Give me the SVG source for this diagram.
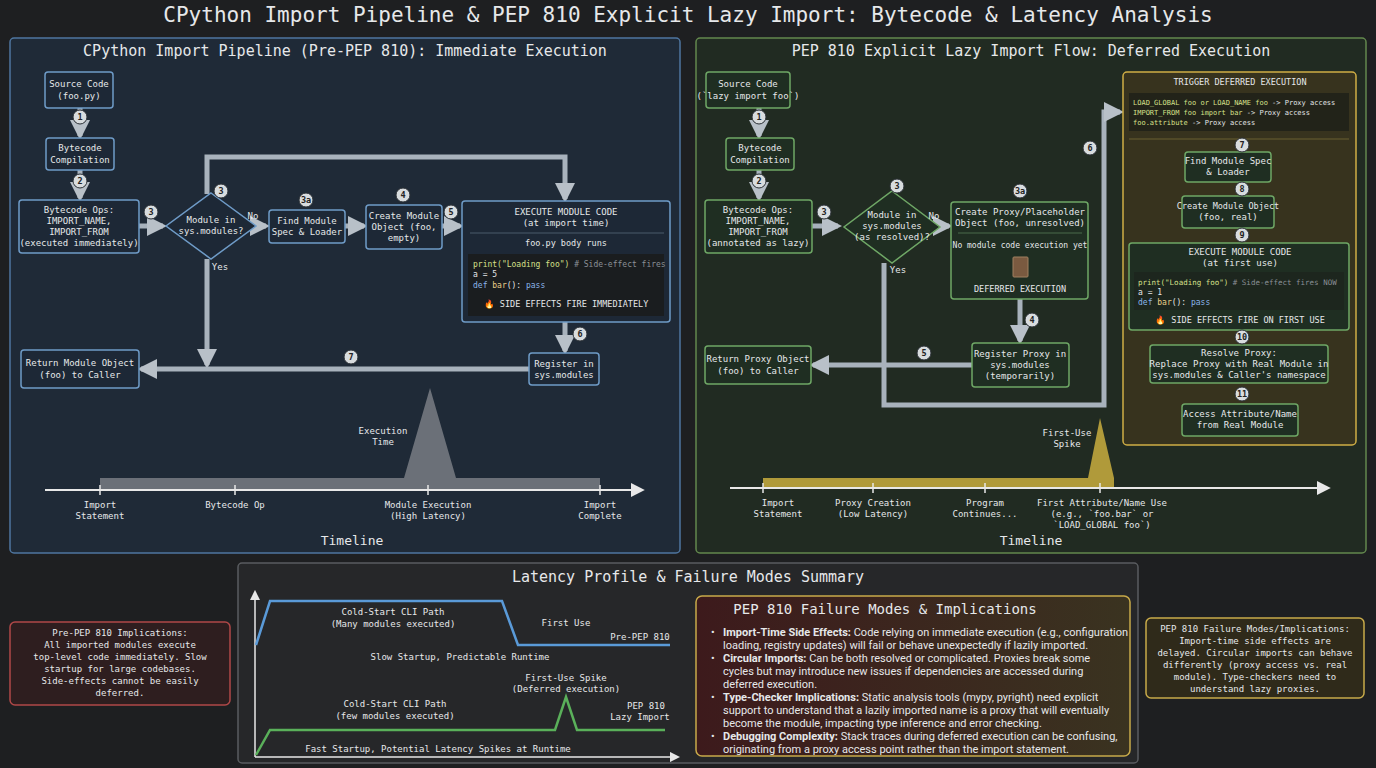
<svg xmlns="http://www.w3.org/2000/svg" width="1376" height="768" viewBox="0 0 1376 768">
<defs>
<marker id="ah" viewBox="0 0 10 10" refX="8" refY="5" markerWidth="4" markerHeight="4" orient="auto"><path d="M0,0L10,5L0,10z" fill="#b8c0c8"/></marker>
<marker id="aw" viewBox="0 0 10 10" refX="8" refY="5" markerWidth="7" markerHeight="7" orient="auto"><path d="M0,0L10,5L0,10z" fill="#e8e8e8"/></marker>
<linearGradient id="fg" x1="0" x2="1"><stop offset="0" stop-color="#3d1a1c"/><stop offset="1" stop-color="#3a3320"/></linearGradient>
<style>
text{font-family:"DejaVu Sans Mono",monospace;fill:#e6e8ea;font-size:9px;text-anchor:middle}
.t{font-size:21px}.h{font-size:15px}.s{font-size:8.5px}.bl{fill:#1d2836;stroke:#6f9cc8;stroke-width:1.5}
.gn{fill:#1f2e22;stroke:#6fa866;stroke-width:1.5}
.ln{fill:none;stroke:#a8b2bc;stroke-width:5}
.bd{fill:#d8dcde;stroke:#2a2f35;stroke-width:1}.bt{fill:#222;font-size:8.5px;font-weight:bold}
.code{font-size:8px;text-anchor:start}
.sans{font-family:Roboto,"Liberation Sans",sans-serif;text-anchor:start;font-size:11px}
</style>
</defs>
<rect width="1376" height="768" fill="#1e1f21"/>
<text x="688" y="22" class="t">CPython Import Pipeline &amp; PEP 810 Explicit Lazy Import: Bytecode &amp; Latency Analysis</text>

<rect x="10" y="38" width="670" height="515" rx="4" fill="#1f2a37" stroke="#4f76a0" stroke-width="1.5"/>
<text x="345" y="56" class="h">CPython Import Pipeline (Pre-PEP 810): Immediate Execution</text>
<rect x="696" y="38" width="670" height="515" rx="4" fill="#212b22" stroke="#63884e" stroke-width="1.5"/>
<text x="1031" y="56" class="h">PEP 810 Explicit Lazy Import Flow: Deferred Execution</text>

<g id="connectors">
<path class="ln" d="M80,108V136" marker-end="url(#ah)"/>
<path class="ln" d="M80,170V198" marker-end="url(#ah)"/>
<path class="ln" d="M139,226H163" marker-end="url(#ah)"/>
<path class="ln" d="M256,226H266" marker-end="url(#ah)"/>
<path class="ln" d="M345,226H364" marker-end="url(#ah)"/>
<path class="ln" d="M442,226H460" marker-end="url(#ah)"/>
<path class="ln" d="M207,194V157H565V199" marker-end="url(#ah)"/>
<path class="ln" d="M207,259V365" marker-end="url(#ah)"/>
<path class="ln" d="M565,322V351" marker-end="url(#ah)"/>
<path class="ln" d="M529,369H141" marker-end="url(#ah)"/>
<path class="ln" d="M759,108V136" marker-end="url(#ah)"/>
<path class="ln" d="M759,170V198" marker-end="url(#ah)"/>
<path class="ln" d="M812,226H838" marker-end="url(#ah)"/>
<path class="ln" d="M940,226H949" marker-end="url(#ah)"/>
<path class="ln" d="M1020,299V341" marker-end="url(#ah)"/>
<path class="ln" d="M972,365H813" marker-end="url(#ah)"/>
<path class="ln" d="M884,263V405H1104V112H1120" marker-end="url(#ah)"/>
<path class="ln" d="M1228,138V150" marker-end="url(#ah)"/>
<path class="ln" d="M1228,182V194" marker-end="url(#ah)"/>
<path class="ln" d="M1228,228V241" marker-end="url(#ah)"/>
<path class="ln" d="M1228,330V343" marker-end="url(#ah)"/>
<path class="ln" d="M1228,383V402" marker-end="url(#ah)"/>
</g>

<g id="l-source"><rect class="bl" x="45" y="72" width="68" height="36" rx="3"/><text x="79" y="87">Source Code</text><text x="79" y="99">(foo.py)</text></g>
<g id="l-compile"><rect class="bl" x="46" y="138" width="68" height="32" rx="3"/><text x="80" y="151">Bytecode</text><text x="80" y="163">Compilation</text></g>
<g id="l-ops"><rect class="bl" x="19" y="200" width="120" height="53" rx="3"/><text x="79" y="213">Bytecode Ops:</text><text x="79" y="224">IMPORT_NAME,</text><text x="79" y="235">IMPORT_FROM</text><text x="79" y="246">(executed immediately)</text></g>
<g id="l-decision"><path d="M211,193L256,226L211,259L166,226z" fill="#1d2836" stroke="#6f9cc8" stroke-width="1.5"/><text x="211" y="223">Module in</text><text x="211" y="234">sys.modules?</text><text x="253" y="219">No</text><text x="220" y="270">Yes</text></g>
<g id="l-find"><rect class="bl" x="269" y="210" width="76" height="33" rx="3"/><text x="307" y="224">Find Module</text><text x="307" y="235">Spec &amp; Loader</text></g>
<g id="l-create"><rect class="bl" x="366" y="205" width="76" height="44" rx="3"/><text x="404" y="219">Create Module</text><text x="404" y="230">Object (foo,</text><text x="404" y="241">empty)</text></g>
<g id="l-exec"><rect class="bl" x="462" y="201" width="208" height="121" rx="3"/><text x="566" y="215">EXECUTE MODULE CODE</text><text x="566" y="226">(at import time)</text><line x1="470" y1="233" x2="664" y2="233" stroke="#4a5a6a"/><text x="566" y="246" class="s">foo.py body runs</text><rect x="468" y="254" width="196" height="62" fill="#1a1d1f"/><text x="473" y="267" class="code"><tspan fill="#d6e08a">print("Loading foo")</tspan><tspan fill="#8a9096">  # Side-effect fires</tspan></text><text x="473" y="277" class="code" fill="#ccc">a = 5</text><text x="473" y="288" class="code"><tspan fill="#8ab4e8">def</tspan><tspan fill="#e8d08a"> bar</tspan>(): <tspan fill="#8ab4e8">pass</tspan></text><text x="566" y="307" class="s">🔥 SIDE EFFECTS FIRE IMMEDIATELY</text></g>
<g id="l-register"><rect class="bl" x="529" y="353" width="70" height="32" rx="3"/><text x="564" y="367">Register in</text><text x="564" y="378">sys.modules</text></g>
<g id="l-return"><rect class="bl" x="21" y="350" width="118" height="38" rx="3"/><text x="80" y="366">Return Module Object</text><text x="80" y="378">(foo) to Caller</text></g>

<g id="l-badges">
<circle class="bd" cx="80" cy="117" r="7"/><text class="bt" x="80" y="120">1</text>
<circle class="bd" cx="80" cy="181" r="7"/><text class="bt" x="80" y="184">2</text>
<circle class="bd" cx="151" cy="212" r="7"/><text class="bt" x="151" y="215">3</text>
<circle class="bd" cx="221" cy="191" r="7"/><text class="bt" x="221" y="194">3</text>
<circle class="bd" cx="306" cy="200" r="7"/><text class="bt" x="306" y="203">3a</text>
<circle class="bd" cx="403" cy="195" r="7"/><text class="bt" x="403" y="198">4</text>
<circle class="bd" cx="451" cy="212" r="7"/><text class="bt" x="451" y="215">5</text>
<circle class="bd" cx="580" cy="334" r="7"/><text class="bt" x="580" y="337">6</text>
<circle class="bd" cx="351" cy="357" r="7"/><text class="bt" x="351" y="360">7</text>
</g>

<g id="l-timeline">
<path d="M100,490V478H404L430,388L456,478H600V490z" fill="#6b7078"/>
<line x1="45" y1="490" x2="642" y2="490" stroke="#e8e8e8" stroke-width="2" marker-end="url(#aw)"/>
<g stroke="#e8e8e8" stroke-width="1.5"><line x1="100" y1="485" x2="100" y2="495"/><line x1="235" y1="485" x2="235" y2="495"/><line x1="428" y1="485" x2="428" y2="495"/><line x1="600" y1="485" x2="600" y2="495"/></g>
<text x="383" y="434">Execution</text><text x="383" y="445">Time</text>
<text x="100" y="508">Import</text><text x="100" y="519">Statement</text><text x="235" y="508">Bytecode Op</text><text x="428" y="508">Module Execution</text><text x="428" y="519">(High Latency)</text><text x="600" y="508">Import</text><text x="600" y="519">Complete</text>
<text x="352" y="545" style="font-size:13px">Timeline</text>
</g>

<g id="r-source"><rect class="gn" x="706" y="72" width="84" height="36" rx="3"/><text x="748" y="87">Source Code</text><text x="748" y="99" fill="#e8e4b0">(`lazy import foo`)</text></g>
<g id="r-compile"><rect class="gn" x="726" y="138" width="68" height="32" rx="3"/><text x="760" y="151">Bytecode</text><text x="760" y="163">Compilation</text></g>
<g id="r-ops"><rect class="gn" x="705" y="200" width="107" height="53" rx="3"/><text x="758" y="213">Bytecode Ops:</text><text x="758" y="224">IMPORT_NAME,</text><text x="758" y="235">IMPORT_FROM</text><text x="758" y="246">(annotated as lazy)</text></g>
<g id="r-decision"><path d="M892,191L940,227L892,263L844,227z" fill="#1f2e22" stroke="#6fa866" stroke-width="1.5"/><text x="892" y="218">Module in</text><text x="892" y="229">sys.modules</text><text x="892" y="240">(as resolved)?</text><text x="934" y="219">No</text><text x="898" y="273">Yes</text></g>
<g id="r-proxy"><rect class="gn" x="951" y="202" width="137" height="97" rx="3"/><text x="1020" y="215">Create Proxy/Placeholder</text><text x="1020" y="226">Object (foo, unresolved)</text><line x1="958" y1="233" x2="1082" y2="233" stroke="#4a6a4a"/><text x="1020" y="248" class="s" style="font-size:8px">No module code execution yet</text><rect x="1013" y="257" width="15" height="20" rx="1" fill="#7a5a40" stroke="#a08060"/><text x="1020" y="292" class="s">DEFERRED EXECUTION</text></g>
<g id="r-register"><rect class="gn" x="972" y="343" width="97" height="44" rx="3"/><text x="1020" y="357">Register Proxy in</text><text x="1020" y="368">sys.modules</text><text x="1020" y="379">(temporarily)</text></g>
<g id="r-return"><rect class="gn" x="705" y="346" width="106" height="38" rx="3"/><text x="758" y="362">Return Proxy Object</text><text x="758" y="374">(foo) to Caller</text></g>

<g id="r-trigger">
<rect x="1123" y="72" width="233" height="373" rx="4" fill="#37331e" stroke="#cfae45" stroke-width="1.5"/>
<text x="1240" y="85" class="s">TRIGGER DEFERRED EXECUTION</text>
<rect x="1129" y="93" width="220" height="38" fill="#222319"/>
<text x="1133" y="105" class="code" style="font-size:7px"><tspan fill="#d6e08a">LOAD_GLOBAL foo or LOAD_NAME foo</tspan> -&gt; Proxy access</text>
<text x="1133" y="115" class="code" style="font-size:7px"><tspan fill="#d6e08a">IMPORT_FROM foo import bar</tspan>       -&gt; Proxy access</text>
<text x="1133" y="125" class="code" style="font-size:7px"><tspan fill="#d6e08a">foo.attribute</tspan>                    -&gt; Proxy access</text>
<line x1="1129" y1="139" x2="1349" y2="139" stroke="#6a6030"/>
</g>
<g id="r-find"><rect class="gn" x="1185" y="152" width="86" height="30" rx="3"/><text x="1228" y="164">Find Module Spec</text><text x="1228" y="175">&amp; Loader</text></g>
<g id="r-create"><rect class="gn" x="1182" y="196" width="92" height="32" rx="3"/><text x="1228" y="209" style="font-size:8.5px">Create Module Object</text><text x="1228" y="220">(foo, real)</text></g>
<g id="r-exec"><rect class="gn" x="1129" y="243" width="220" height="87" rx="3"/><text x="1240" y="255">EXECUTE MODULE CODE</text><text x="1240" y="266">(at first use)</text><rect x="1134" y="272" width="210" height="38" fill="#1d261e"/><text x="1138" y="285" class="code" style="font-size:7.5px"><tspan fill="#d6e08a">print("Loading foo")</tspan><tspan fill="#8a9096"> # Side-effect fires NOW</tspan></text><text x="1138" y="295" class="code">a = 1</text><text x="1138" y="305" class="code"><tspan fill="#8ab4e8">def</tspan><tspan fill="#e8d08a"> bar</tspan>(): <tspan fill="#8ab4e8">pass</tspan></text><text x="1240" y="323" class="s">🔥 SIDE EFFECTS FIRE ON FIRST USE</text></g>
<g id="r-resolve"><rect class="gn" x="1150" y="345" width="178" height="38" rx="3"/><text x="1239" y="356">Resolve Proxy:</text><text x="1239" y="367">Replace Proxy with Real Module in</text><text x="1239" y="378">sys.modules &amp; Caller's namespace</text></g>
<g id="r-access"><rect class="gn" x="1182" y="404" width="116" height="32" rx="3"/><text x="1240" y="417">Access Attribute/Name</text><text x="1240" y="428">from Real Module</text></g>

<g id="r-badges">
<circle class="bd" cx="759" cy="117" r="7"/><text class="bt" x="759" y="120">1</text>
<circle class="bd" cx="759" cy="181" r="7"/><text class="bt" x="759" y="184">2</text>
<circle class="bd" cx="824" cy="212" r="7"/><text class="bt" x="824" y="215">3</text>
<circle class="bd" cx="897" cy="186" r="7"/><text class="bt" x="897" y="189">3</text>
<circle class="bd" cx="1020" cy="191" r="7"/><text class="bt" x="1020" y="194">3a</text>
<circle class="bd" cx="1032" cy="320" r="7"/><text class="bt" x="1032" y="323">4</text>
<circle class="bd" cx="924" cy="353" r="7"/><text class="bt" x="924" y="356">5</text>
<circle class="bd" cx="1090" cy="148" r="7"/><text class="bt" x="1090" y="151">6</text>
<circle class="bd" cx="1242" cy="145" r="7"/><text class="bt" x="1242" y="148">7</text>
<circle class="bd" cx="1242" cy="189" r="7"/><text class="bt" x="1242" y="192">8</text>
<circle class="bd" cx="1242" cy="235" r="7"/><text class="bt" x="1242" y="238">9</text>
<circle class="bd" cx="1242" cy="337" r="7"/><text class="bt" x="1242" y="340">10</text>
<circle class="bd" cx="1242" cy="394" r="7"/><text class="bt" x="1242" y="397">11</text>
</g>

<g id="r-timeline">
<path d="M763,488V478H1088L1100,418L1114,478V488z" fill="#b09a3a"/>
<line x1="730" y1="488" x2="1328" y2="488" stroke="#e8e8e8" stroke-width="2" marker-end="url(#aw)"/>
<g stroke="#e8e8e8" stroke-width="1.5"><line x1="763" y1="483" x2="763" y2="493"/><line x1="873" y1="483" x2="873" y2="493"/><line x1="985" y1="483" x2="985" y2="493"/><line x1="1100" y1="483" x2="1100" y2="493"/></g>
<text x="1067" y="436">First-Use</text><text x="1067" y="447">Spike</text>
<text x="778" y="506">Import</text><text x="778" y="517">Statement</text><text x="873" y="506">Proxy Creation</text><text x="873" y="517">(Low Latency)</text><text x="985" y="506">Program</text><text x="985" y="517">Continues...</text><text x="1102" y="506">First Attribute/Name Use</text><text x="1102" y="517">(e.g., `foo.bar` or</text><text x="1102" y="528">`LOAD_GLOBAL foo`)</text>
<text x="1031" y="545" style="font-size:13px">Timeline</text>
</g>

<g id="summary">
<rect x="238" y="563" width="900" height="200" rx="4" fill="#262729" stroke="#5a5c60" stroke-width="1.5"/>
<text x="688" y="582" class="h">Latency Profile &amp; Failure Modes Summary</text>
<line x1="255" y1="757" x2="255" y2="592" stroke="#e8e8e8" stroke-width="1.5" marker-end="url(#aw)"/>
<line x1="255" y1="757" x2="678" y2="757" stroke="#e8e8e8" stroke-width="1.5" marker-end="url(#aw)"/>
<path d="M256,645L270,601H502L518,645H670" fill="none" stroke="#5a9ad8" stroke-width="2.5"/>
<text x="393" y="615">Cold-Start CLI Path</text><text x="393" y="627">(Many modules executed)</text>
<text x="566" y="626">First Use</text>
<text x="640" y="640" fill="#6aa8e8">Pre-PEP 810</text>
<text x="460" y="660" fill="#6aa8e8">Slow Startup, Predictable Runtime</text>
<path d="M256,755L270,730H555L566,697L577,730H665" fill="none" stroke="#5ab05a" stroke-width="2.5"/>
<text x="395" y="707">Cold-Start CLI Path</text><text x="395" y="719">(few modules executed)</text>
<text x="566" y="681">First-Use Spike</text><text x="566" y="692">(Deferred execution)</text>
<text x="646" y="709" fill="#6ac06a">PEP 810</text><text x="640" y="720" fill="#6ac06a">Lazy Import</text>
<text x="438" y="752" fill="#6ac06a">Fast Startup, Potential Latency Spikes at Runtime</text>
</g>

<g id="failure">
<rect x="696" y="596" width="434" height="160" rx="6" fill="url(#fg)" stroke="#c8aa4a" stroke-width="1.5"/>
<text x="885" y="614" style="font-size:14px">PEP 810 Failure Modes &amp; Implications</text>
<text x="711" y="636" class="sans">• <tspan font-weight="bold" x="723">Import-Time Side Effects:</tspan> Code relying on immediate execution (e.g., configuration</text>
<text x="723" y="649" class="sans">loading, registry updates) will fail or behave unexpectedly if lazily imported.</text>
<text x="711" y="662" class="sans">• <tspan font-weight="bold" x="723">Circular Imports:</tspan> Can be both resolved or complicated. Proxies break some</text>
<text x="723" y="675" class="sans">cycles but may introduce new issues if dependencies are accessed during</text>
<text x="723" y="688" class="sans">deferred execution.</text>
<text x="711" y="701" class="sans">• <tspan font-weight="bold" x="723">Type-Checker Implications:</tspan> Static analysis tools (mypy, pyright) need explicit</text>
<text x="723" y="714" class="sans">support to understand that a lazily imported name is a proxy that will eventually</text>
<text x="723" y="727" class="sans">become the module, impacting type inference and error checking.</text>
<text x="711" y="740" class="sans">• <tspan font-weight="bold" x="723">Debugging Complexity:</tspan> Stack traces during deferred execution can be confusing,</text>
<text x="723" y="753" class="sans">originating from a proxy access point rather than the import statement.</text>
</g>

<g id="note-left">
<rect x="10" y="622" width="220" height="83" rx="5" fill="#2e1e1f" stroke="#b04848" stroke-width="1.5"/>
<text x="120" y="636">Pre-PEP 810 Implications:</text><text x="120" y="648">All imported modules execute</text><text x="120" y="660">top-level code immediately. Slow</text><text x="120" y="672">startup for large codebases.</text><text x="120" y="684">Side-effects cannot be easily</text><text x="120" y="696">deferred.</text>
</g>
<g id="note-right">
<rect x="1146" y="618" width="218" height="80" rx="5" fill="#2f2a1a" stroke="#c8aa4a" stroke-width="1.5"/>
<text x="1255" y="632">PEP 810 Failure Modes/Implications:</text><text x="1255" y="644">Import-time side effects are</text><text x="1255" y="656">delayed. Circular imports can behave</text><text x="1255" y="668">differently (proxy access vs. real</text><text x="1255" y="680">module). Type-checkers need to</text><text x="1255" y="692">understand lazy proxies.</text>
</g>
</svg>
